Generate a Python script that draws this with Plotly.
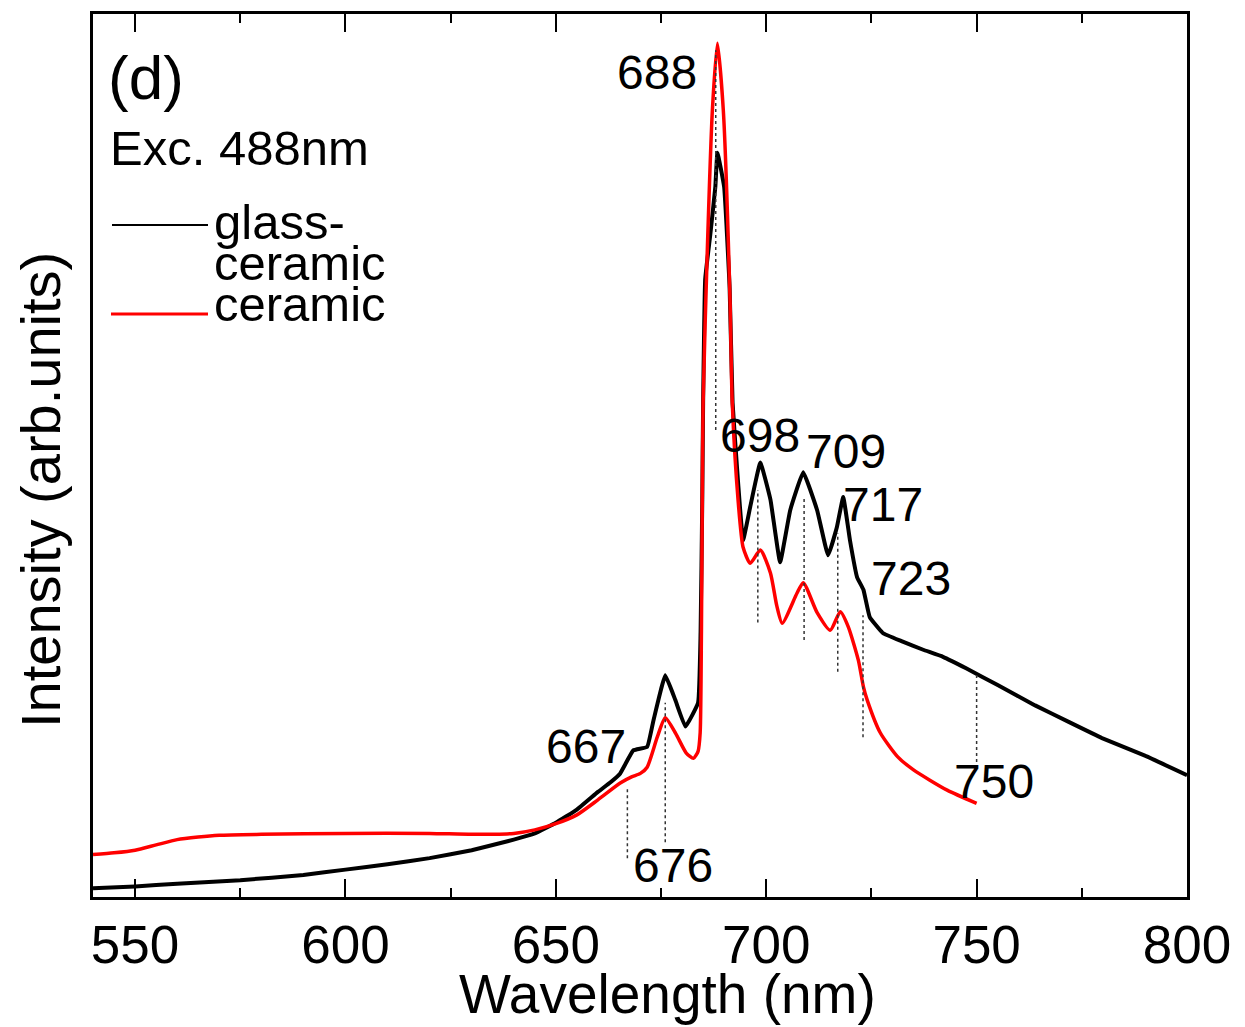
import plotly.graph_objects as go

# Photoluminescence spectra, excitation 488 nm
wl_glass_ceramic = [540, 550, 560, 575, 590, 600, 610, 620, 630, 640, 645, 650, 655, 660, 663,
                    665.3, 668.4, 671.7, 673.2, 676.0, 678.4, 680.8, 683.8, 684.4, 684.8, 685.0,
                    685.5, 686.7, 687.9, 688.4, 690.0, 691.3, 692.0, 693.3, 694.5, 696.2, 698.6,
                    701.0, 703.3, 705.7, 708.8, 712.1, 714.7, 716.8, 718.3, 719.9, 721.6, 723.1,
                    724.6, 727.7, 732, 737.3, 742, 747.5, 755, 763.9, 772, 779.8, 790, 800]
int_glass_ceramic = [1.0, 1.2, 1.5, 1.9, 2.5, 3.1, 3.7, 4.4, 5.3, 6.5, 7.2, 8.4, 9.9, 11.9, 13.0,
                     14.0, 16.6, 17.0, 20.0, 25.1, 22.3, 19.3, 22.0, 30, 45, 56,
                     70, 75, 80.4, 84.3, 80.4, 69, 56, 47, 40.4, 44.2, 49.2,
                     45, 37.9, 43.8, 48.1, 43.8, 38.7, 41.9, 45.3, 40.4, 36.2, 34.8,
                     31.7, 29.9, 29.0, 28.0, 27.2, 25.9, 24.0, 21.7, 19.8, 18.0, 16.0, 13.8]

wl_ceramic = [540, 545, 550, 555, 560, 565, 570, 580, 600, 620, 630, 640, 645, 650, 655, 660,
              665.3, 668, 670.1, 671.7, 674.1, 676.0, 678.5, 681, 682.7, 683.8, 684.3, 684.6,
              684.8, 685.0, 686.0, 687.2, 688.4, 689.8, 691.4, 691.9, 693.3, 694.5, 696.2,
              698.6, 701.0, 702.5, 703.8, 707.3, 708.8, 712.1, 715.2, 717.6, 719.5, 721.9,
              723.1, 724.0, 727.1, 731.2, 735.0, 743.0, 750.0]
int_ceramic = [4.8, 5.0, 5.3, 5.9, 6.5, 6.8, 7.0, 7.1, 7.2, 7.2, 7.1, 7.2, 7.6, 8.3, 9.3, 11.0,
               12.9, 13.6, 14.0, 14.7, 18.1, 20.3, 18.5, 16.3, 15.7, 16.5, 18.6, 30,
               45, 56, 73.3, 89.1, 96.7, 89.1, 67.6, 56.3, 45, 39.6, 37.8,
               39.3, 36.7, 33, 31.0, 34.4, 35.6, 32.2, 30.2, 32.3, 30.6, 26.8,
               23.8, 22.3, 18.6, 15.9, 14.4, 12.1, 10.6]

# Marked peak positions (nm) and the vertical extent of their guide lines
peak_labels = [667, 676, 688, 698, 709, 717, 723, 750]
guide_top = [12.5, 22.0, 95.9, 46.1, 45.3, 41.2, 31.9, 25.3]
guide_bottom = [4.4, 6.2, 52.9, 31.1, 29.1, 25.5, 18.1, 15.3]
# Where each peak label text sits (wavelength, intensity)
label_x = [657.2, 677.9, 674.1, 698.6, 719.0, 727.8, 734.4, 754.1]
label_y = [17.1, 3.6, 93.4, 52.3, 50.4, 44.4, 36.1, 13.1]

x_ticks = [550, 600, 650, 700, 750, 800]

FONT = "Liberation Sans, Arial, sans-serif"

fig = go.Figure()
fig.add_trace(go.Scatter(x=wl_glass_ceramic, y=int_glass_ceramic, mode="lines",
                         line=dict(color="black", width=4, shape="spline", smoothing=0.3),
                         name="glass-ceramic", showlegend=False))
fig.add_trace(go.Scatter(x=wl_ceramic, y=int_ceramic, mode="lines",
                         line=dict(color="#ff0000", width=3.5, shape="spline", smoothing=0.6),
                         name="ceramic", showlegend=False))

shapes = []
for wl, top, bot in zip(peak_labels, guide_top, guide_bottom):
    shapes.append(dict(type="line", xref="x", yref="y", x0=wl, x1=wl, y0=bot, y1=top,
                       line=dict(color="#333333", width=1.5, dash="dot")))


# pixel helpers for the hand-built legend and free text
def px_x(p):
    return (p - 93) / 1094


def px_y(p):
    return (897 - p) / 883


shapes.append(dict(type="line", xref="paper", yref="paper", x0=px_x(112), x1=px_x(208),
                   y0=px_y(225), y1=px_y(225), line=dict(color="black", width=2)))
shapes.append(dict(type="line", xref="paper", yref="paper", x0=px_x(111), x1=px_x(208),
                   y0=px_y(314), y1=px_y(314), line=dict(color="#ff0000", width=3)))

annotations = []
for txt, lx, ly in zip(peak_labels, label_x, label_y):
    annotations.append(dict(x=lx, y=ly, xref="x", yref="y", text=str(txt), showarrow=False,
                            font=dict(family=FONT, size=48, color="black"),
                            xanchor="center", yanchor="middle"))

text_items = [
    ("(d)", 106, 77, 62),
    ("Exc. 488nm", 108, 148, 49),
    ("glass-", 212, 222, 49),
    ("ceramic", 212, 263, 49),
    ("ceramic", 212, 304, 49),
]
for txt, x0, yc, size in text_items:
    annotations.append(dict(x=px_x(x0), y=px_y(yc), xref="paper", yref="paper", text=txt,
                            showarrow=False, font=dict(family=FONT, size=size, color="black"),
                            xanchor="left", yanchor="middle"))

# axis titles
annotations.append(dict(x=px_x(667), y=px_y(994), xref="paper", yref="paper",
                        text="Wavelength (nm)", showarrow=False,
                        font=dict(family=FONT, size=55, color="black"),
                        xanchor="center", yanchor="middle"))
annotations.append(dict(x=px_x(40), y=px_y(490), xref="paper", yref="paper",
                        text="Intensity (arb.units)", showarrow=False, textangle=-90,
                        font=dict(family=FONT, size=56, color="black"),
                        xanchor="center", yanchor="middle"))

fig.update_layout(
    width=1245, height=1027,
    margin=dict(l=93, r=58, t=14, b=130),
    paper_bgcolor="white", plot_bgcolor="white",
    shapes=shapes, annotations=annotations,
    showlegend=False,
    xaxis=dict(range=[540, 800], tickvals=x_ticks, ticktext=[str(v) for v in x_ticks],
               ticks="inside", ticklen=18, tickwidth=2, tickcolor="black",
               minor=dict(ticks="inside", ticklen=9, tickwidth=2, tickcolor="black",
                          tickvals=[575, 625, 675, 725, 775]),
               showline=True, linewidth=2.5, linecolor="black", mirror="allticks",
               showgrid=False, zeroline=False,
               tickfont=dict(family=FONT, size=53, color="black")),
    yaxis=dict(range=[0, 100], showticklabels=False, ticks="", showline=True,
               linewidth=2.5, linecolor="black", mirror=True, showgrid=False,
               zeroline=False),
)

fig.write_html("out.html")
